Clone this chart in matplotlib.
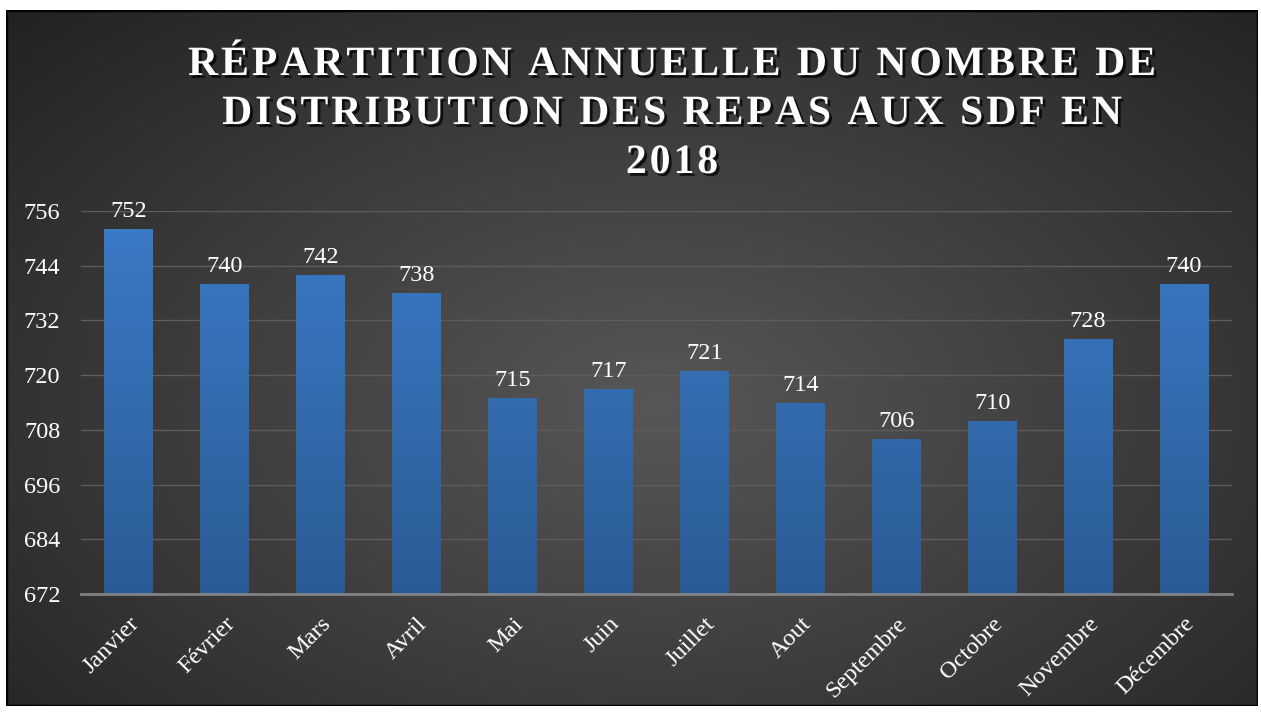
import numpy as np
import matplotlib
matplotlib.use("Agg")
import matplotlib.pyplot as plt
import matplotlib.patheffects as pe
from matplotlib.colors import LinearSegmentedColormap
from matplotlib import font_manager
from matplotlib.ft2font import FT2Font

months = ["Janvier", "Février", "Mars", "Avril", "Mai", "Juin", "Juillet",
          "Aout", "Septembre", "Octobre", "Novembre", "Décembre"]
values = [752, 740, 742, 738, 715, 717, 721, 714, 706, 710, 728, 740]
yticks = [672, 684, 696, 708, 720, 732, 744, 756]
title_lines = ["RÉPARTITION ANNUELLE DU NOMBRE DE",
               "DISTRIBUTION DES REPAS AUX SDF EN",
               "2018"]

W, H = 1261, 713
DPI = 100
fig = plt.figure(figsize=(W / DPI, H / DPI), dpi=DPI)
fig.patch.set_facecolor("white")

# background panel with radial gradient
bg = fig.add_axes([6 / W, 1 - 706 / H, (1258 - 6) / W, (706 - 10) / H])
bg.set_axis_off()
yy, xx = np.mgrid[0:300, 0:500]
cx, cy = 260, 170
r = np.sqrt(((xx - cx) / 260) ** 2 + ((yy - cy) / 170) ** 2) / np.sqrt(2)
cmap_bg = LinearSegmentedColormap.from_list("bg", ["#575757", "#3d3d3d", "#222222"])
bg.imshow(r, cmap=cmap_bg, aspect="auto", extent=[0, 1, 0, 1], vmin=0, vmax=1)
bg.set_xlim(0, 1)
bg.set_ylim(0, 1)
rect = plt.Rectangle((0, 0), 1, 1, transform=bg.transAxes, fill=False,
                     edgecolor="black", linewidth=2.5)
bg.add_patch(rect)

serif = ["Liberation Serif", "DejaVu Serif"]

ax = fig.add_axes([81 / W, 1 - 594 / H, (1232 - 81) / W, (594 - 211) / H])
ax.set_facecolor("none")
x = np.arange(len(months))
bars = ax.bar(x, [v - 672 for v in values], bottom=672, width=0.51,
              color="#3570b8", zorder=3)
ax.set_xlim(-0.5, len(months) - 0.5)
ax.set_ylim(672, 756)

cmap_bar = LinearSegmentedColormap.from_list("bar", ["#2b5b95", "#3b7bc8"])
grad = np.linspace(0, 1, 256).reshape(-1, 1)
for b in bars:
    bx, bw = b.get_x(), b.get_width()
    im = ax.imshow(grad, cmap=cmap_bar, origin="lower", aspect="auto",
                   extent=[bx, bx + bw, 672, 756], zorder=3)
    im.set_clip_path(b)
    b.set_facecolor("none")

ax.set_yticks(yticks)
ax.set_yticklabels([str(t) for t in yticks], fontfamily=serif, fontsize=17.5, color="white")
ax.set_xticks(x)
ax.set_xticklabels(months, fontfamily=serif, fontsize=17.5, color="white",
                   rotation=45, ha="right", rotation_mode="anchor")
ax.tick_params(axis="both", length=0)
ax.tick_params(axis="y", pad=15)
ax.tick_params(axis="x", pad=14)
ax.grid(axis="y", color="#5c5c5c", linewidth=1, zorder=1)
for s in ["left", "right", "top"]:
    ax.spines[s].set_visible(False)
ax.spines["bottom"].set_color("#8f8f8f")
ax.spines["bottom"].set_linewidth(2)
ax.spines["bottom"].set_alpha(0.85)
ax.spines["bottom"].set_zorder(4)

for xi, v in zip(x, values):
    ax.text(xi, v + 1.5, str(v), ha="center", va="bottom", fontfamily=serif,
            fontsize=17.5, color="white", zorder=5)

# Title with letter spacing (tracking), laid out glyph by glyph
tsize = 30
tracking_px = 3.0
fpath = font_manager.findfont(font_manager.FontProperties(family=serif, weight="bold"))
ft = FT2Font(fpath)
ft.set_size(tsize, DPI)

def advances(s):
    return [ft.load_char(ord(c)).linearHoriAdvance / 65536.0 for c in s]

center_px = 672
baselines_px = [75, 124, 173]
shadow = [pe.withSimplePatchShadow(offset=(2, -2), shadow_rgbFace="black", alpha=0.75)]
for line, base in zip(title_lines, baselines_px):
    adv = advances(line)
    total = sum(adv) + tracking_px * (len(line) - 1)
    xpos = center_px - total / 2
    for c, a in zip(line, adv):
        if c != " ":
            fig.text(xpos / W, 1 - base / H, c, ha="left", va="baseline",
                     fontfamily=serif, fontsize=tsize, fontweight="bold",
                     color="white", path_effects=shadow)
        xpos += a + tracking_px

fig.savefig("out.png", dpi=DPI, facecolor="white")
